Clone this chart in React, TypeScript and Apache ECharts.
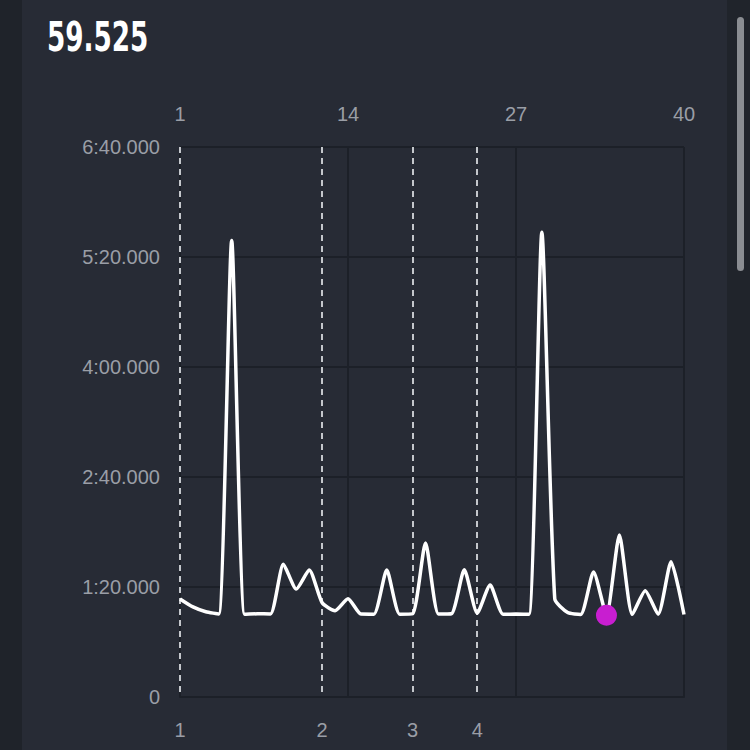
import React, { useEffect, useRef } from "react";
import * as echarts from "echarts";

const laps: string[] = [
  "1", "2", "3", "4", "5", "6", "7", "8", "9", "10",
  "11", "12", "13", "14", "15", "16", "17", "18", "19", "20",
  "21", "22", "23", "24", "25", "26", "27", "28", "29", "30",
  "31", "32", "33", "34", "35", "36", "37", "38", "39", "40",
];

// lap times in seconds
const lapTimes: number[] = [
  71.3, 65.5, 62.0, 60.4, 332.0, 60.2, 60.5, 60.4, 96.5, 78.5,
  92.4, 68.5, 62.8, 71.5, 60.3, 60.2, 92.3, 60.2, 60.5, 112.0,
  60.4, 60.6, 92.5, 61.0, 81.5, 60.2, 60.3, 60.1, 338.0, 71.3,
  61.4, 60.0, 91.0, 59.525, 117.8, 60.1, 77.3, 60.2, 98.4, 60.0,
];

const stintStartLaps: number[] = [1, 12, 19, 24];
const stintLabels: string[] = ["1", "2", "3", "4"];

const fastestLap = "34";
const fastestTime = 59.525;
const headline = "59.525";

const labelColor = "#9a9ea6";
const gridColor = "#1c2028";
const labelFont = "'Liberation Sans', Arial, sans-serif";

function fmtTime(v: number): string {
  if (v === 0) return "0";
  const m = Math.floor(v / 60);
  const s = v - m * 60;
  return `${m}:${s.toFixed(3).padStart(6, "0")}`;
}

export default function App() {
  const ref = useRef<HTMLDivElement>(null);
  useEffect(() => {
    if (!ref.current) return;
    const chart = echarts.init(ref.current, undefined, { renderer: "svg" });
    const isStint = (i: number) => stintStartLaps.includes(i + 1);
    chart.setOption({
      animation: false,
      backgroundColor: "#272b35",
      grid: { left: 180, right: 66, top: 147, bottom: 53, containLabel: false },
      graphic: [
        { type: "rect", left: 0, top: 0, shape: { width: 22, height: 750 }, style: { fill: "#1f232a" }, silent: true },
        { type: "rect", left: 727, top: 0, shape: { width: 23, height: 750 }, style: { fill: "#20242b" }, silent: true },
        { type: "rect", left: 737, top: 17, shape: { width: 7, height: 254, r: 3.5 }, style: { fill: "#8a8d92" }, silent: true },
        {
          type: "text",
          x: 47,
          y: 37,
          scaleX: 0.73,
          style: {
            text: headline,
            fill: "#ffffff",
            font: "bold 40px 'DejaVu Sans Condensed', 'DejaVu Sans', sans-serif",
            verticalAlign: "middle",
          },
        },
      ],
      xAxis: [
        {
          type: "category",
          position: "top",
          data: laps,
          boundaryGap: false,
          axisLine: { show: false },
          axisTick: { show: false },
          axisLabel: { interval: 12, color: labelColor, fontSize: 20, fontFamily: labelFont, margin: 23 },
          splitLine: { show: true, interval: 12, lineStyle: { color: gridColor, width: 2 } },
        },
        {
          type: "category",
          position: "bottom",
          data: laps,
          boundaryGap: false,
          axisLine: { show: true, lineStyle: { color: gridColor, width: 2 } },
          axisTick: { show: false },
          axisLabel: {
            interval: (i: number) => isStint(i),
            formatter: (_v: string, i: number) => stintLabels[stintStartLaps.indexOf(i + 1)] ?? "",
            color: labelColor,
            fontSize: 20,
            fontFamily: labelFont,
            margin: 23,
          },
          splitLine: {
            show: true,
            interval: (i: number) => isStint(i),
            lineStyle: { color: "#c4c7cc", width: 2, type: [6, 5] },
          },
        },
      ],
      yAxis: {
        type: "value",
        min: 0,
        max: 400,
        interval: 80,
        axisLine: { show: false },
        axisTick: { show: false },
        axisLabel: { formatter: (v: number) => fmtTime(v), color: labelColor, fontSize: 20, fontFamily: labelFont, margin: 20 },
        splitLine: { show: true, lineStyle: { color: gridColor, width: 2 } },
      },
      series: [
        {
          type: "line",
          xAxisIndex: 1,
          data: lapTimes,
          smooth: 0.2,
          showSymbol: false,
          symbol: "none",
          lineStyle: { color: "#ffffff", width: 3.5 },
          z: 3,
        },
        {
          type: "scatter",
          xAxisIndex: 1,
          data: [[fastestLap, fastestTime]],
          symbolSize: 21,
          itemStyle: { color: "#c81ed0", opacity: 1 },
          z: 4,
        },
      ],
    });
    return () => chart.dispose();
  }, []);
  return (
    <div
      ref={ref}
      style={{ position: "absolute", left: 0, top: 0, width: 750, height: 750 }}
    />
  );
}
